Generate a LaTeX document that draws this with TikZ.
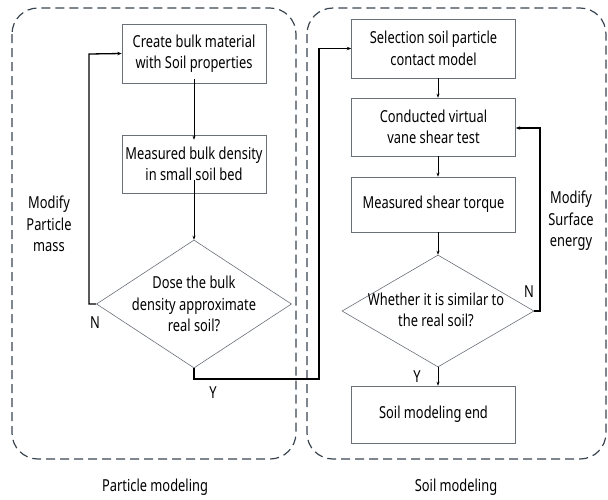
\documentclass[tikz,border=0pt]{standalone}
\usepackage{fontspec}
\setmainfont{Noto Sans}[FakeStretch=0.78]
\usetikzlibrary{shapes.geometric,arrows.meta}
\definecolor{cont}{HTML}{3A4550}
\definecolor{boxline}{HTML}{6A7078}
\begin{document}
\begin{tikzpicture}[x=1pt,y=-1pt,
  font=\fontsize{16.5}{21.5}\selectfont,
  container/.style={draw=cont,line width=1.2pt,dash pattern=on 9pt off 5pt,rounded corners=26pt},
  stepbox/.style={draw=boxline,line width=0.6pt,rectangle,inner sep=0pt,align=center},
  dia/.style={draw=boxline,line width=0.6pt,diamond,inner sep=0pt},
  txt/.style={align=center,inner sep=0pt},
  arr/.style={draw=black,line width=0.6pt,-{Stealth[length=4pt,width=3pt]}},
  loop/.style={draw=black,line width=1.3pt,-{Stealth[length=4.5pt,width=3.5pt]}}
]
\useasboundingbox (0,0) rectangle (608,499);
% containers
\draw[container] (12,8) rectangle (296,459);
\draw[container] (307,8) rectangle (606,459);
\node[txt] (pm) at (155,487) {Particle modeling};
\node[txt] (sm) at (456,487) {Soil modeling};
% left column
\node[stepbox,minimum width=144pt,minimum height=59pt] (b1) at (194,53.5) {Create bulk material\\with Soil properties};
\node[stepbox,minimum width=144pt,minimum height=58pt] (b2) at (194,164) {Measured bulk density\\in small soil bed};
\node[dia,minimum width=195pt,minimum height=128pt] (d1) at (194,304) {};
\node[txt] (d1t) at (194,304) {Dose the bulk\\density approximate\\real soil?};
\draw[arr] ([yshift=4pt]b1.south) -- ([yshift=-5pt]b2.north);
\draw[arr] ([yshift=13pt]b2.south) -- (d1.north);
\coordinate (ln) at (89,54);
\draw[loop] (d1.west) -| (ln) -- (b1.west);
\node[txt] (nl) at (95,323) {N};
\node[txt] (mpm) at (49,224) {Modify\\Particle\\mass};
% right column
\node[stepbox,minimum width=164pt,minimum height=59pt] (a) at (433.5,48.5) {Selection soil particle\\contact model};
\node[stepbox,minimum width=164pt,minimum height=58pt] (b) at (433.5,127) {Conducted virtual\\vane shear test};
\node[stepbox,minimum width=164pt,minimum height=55pt] (c) at (433.5,204.5) {Measured shear torque};
\node[dia,minimum width=192pt,minimum height=112pt] (d2) at (438,311) {};
\node[txt] (d2t) at (436,310) {Whether it is similar to\\the real soil?};
\node[stepbox,minimum width=164pt,minimum height=57pt] (d) at (433.5,414.5) {Soil modeling end};
\draw[arr] (a.south -| d2.center) -- (b.north -| d2.center);
\draw[arr] (b.south -| d2.center) -- (c.north -| d2.center);
\draw[arr] (c.south -| d2.center) -- (d2.north);
\draw[arr] (d2.south) -- (d.north -| d2.center);
\coordinate (rn) at (540,128);
\draw[loop] (d2.east) -| (rn) -- (b.east |- rn);
\node[txt] (nr) at (529,292) {N};
\node[txt] (yr) at (417,377) {Y};
\node[txt] (mse) at (571,221) {Modify\\Surface\\energy};
% Y path from left diamond to right column
\coordinate (y1) at (194,379);
\coordinate (y2) at (319,379);
\draw[loop] (d1.south) -- (y1) -- (y2) |- (a.west);
\node[txt] (yl) at (213,393) {Y};
\end{tikzpicture}
\end{document}
